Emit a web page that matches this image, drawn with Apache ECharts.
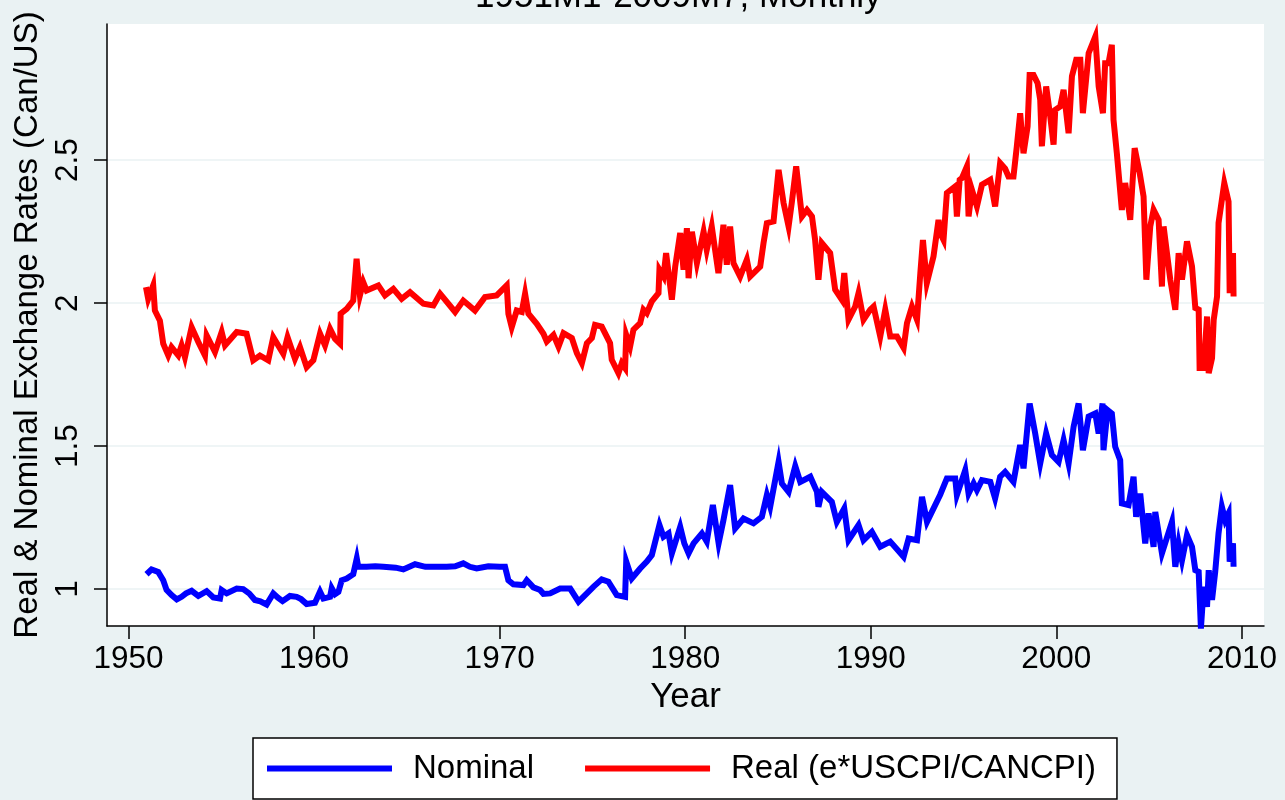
<!DOCTYPE html>
<html>
<head>
<meta charset="utf-8">
<script src="https://cdn.jsdelivr.net/npm/echarts@6/dist/echarts.min.js"></script>
<style>
html,body{margin:0;padding:0;background:#EAF2F3;}
#c{width:1285px;height:800px;}
</style>
</head>
<body>
<div id="c"></div>
<script>
const titleText = '1951M1-2009M7, Monthly';
const xAxisTitle = 'Year';
const yAxisTitle = 'Real & Nominal Exchange Rates (Can/US)';
const seriesNames = ['Nominal', 'Real (e*USCPI/CANCPI)'];
const xTicks = [1950, 1960, 1970, 1980, 1990, 2000, 2010];
const yTicks = [1, 1.5, 2, 2.5];

const nomYear = [
1950.97,1951.24,1951.6,1951.87,1952.05,1952.32,1952.6,1952.86,1953.1,1953.4,
1953.76,1954.21,1954.57,1954.93,1955.02,1955.29,1955.83,1956.18,1956.5,1956.81,
1957.1,1957.44,1957.8,1958.05,1958.3,1958.7,1959.06,1959.3,1959.6,1960.05,
1960.32,1960.5,1960.86,1960.95,1961.13,1961.31,1961.49,1961.76,1962.11,1962.3,
1962.38,1962.83,1963.3,1963.73,1964.4,1964.81,1965.44,1966.0,1966.43,1967.15,
1967.6,1968.04,1968.4,1968.76,1969.39,1970.0,1970.29,1970.38,1970.47,1970.74,
1971.28,1971.46,1971.82,1972.18,1972.36,1972.72,1973.26,1973.8,1974.25,1974.7,
1975.05,1975.5,1975.86,1976.31,1976.76,1976.82,1977.12,1977.57,1977.93,1978.2,
1978.61,1978.83,1979.1,1979.28,1979.73,1979.95,1980.18,1980.45,1980.9,1981.16,
1981.49,1981.8,1982.06,1982.42,1982.69,1983.14,1983.68,1984.13,1984.4,1984.58,
1985.03,1985.21,1985.57,1985.93,1986.2,1986.74,1987.1,1987.18,1987.36,1987.9,
1988.17,1988.57,1988.8,1989.34,1989.61,1990.06,1990.51,1991.05,1991.77,1992.04,
1992.49,1992.76,1993.03,1993.74,1994.1,1994.55,1994.64,1995.09,1995.27,1995.54,
1995.72,1995.99,1996.44,1996.7,1996.97,1997.24,1997.69,1998.05,1998.23,1998.56,
1998.86,1999.13,1999.45,1999.76,2000.12,2000.39,2000.66,2000.93,2001.2,2001.43,
2001.74,2002.1,2002.28,2002.49,2002.54,2002.76,2002.99,2003.17,2003.44,2003.53,
2003.89,2004.16,2004.3,2004.52,2004.79,2004.97,2005.24,2005.33,2005.69,2006.23,
2006.41,2006.59,2006.77,2007.04,2007.31,2007.49,2007.67,2007.79,2007.94,2008.12,
2008.21,2008.39,2008.56,2008.74,2008.92,2009.1,2009.28,2009.34,2009.52,2009.55
];
const nomVal = [
1.052,1.069,1.060,1.031,0.997,0.979,0.964,0.973,0.985,0.994,
0.976,0.993,0.971,0.967,0.997,0.985,1.002,1.000,0.985,0.962,
0.957,0.946,0.985,0.970,0.958,0.976,0.973,0.965,0.948,0.952,
0.991,0.967,0.973,1.003,0.982,0.990,1.031,1.037,1.052,1.107,
1.078,1.078,1.080,1.078,1.075,1.069,1.087,1.078,1.078,1.078,
1.080,1.090,1.078,1.072,1.080,1.078,1.078,1.078,1.031,1.017,
1.014,1.031,1.006,0.997,0.983,0.985,1.002,1.002,0.956,0.985,
1.008,1.034,1.026,0.979,0.973,1.096,1.037,1.072,1.096,1.119,
1.224,1.183,1.195,1.125,1.218,1.160,1.125,1.160,1.195,1.166,
1.294,1.160,1.241,1.364,1.212,1.247,1.230,1.253,1.329,1.288,
1.445,1.369,1.340,1.430,1.375,1.393,1.340,1.288,1.340,1.305,
1.235,1.282,1.171,1.224,1.171,1.200,1.148,1.166,1.113,1.177,
1.171,1.323,1.235,1.330,1.387,1.387,1.329,1.416,1.334,1.370,
1.346,1.381,1.375,1.317,1.393,1.410,1.375,1.504,1.422,1.649,
1.544,1.439,1.544,1.469,1.445,1.521,1.439,1.568,1.649,1.486,
1.603,1.614,1.544,1.649,1.486,1.626,1.614,1.498,1.451,1.300,
1.294,1.393,1.253,1.334,1.160,1.265,1.148,1.270,1.125,1.235,
1.078,1.160,1.101,1.189,1.148,1.066,1.060,0.862,1.008,0.938,
1.066,0.962,1.060,1.195,1.288,1.241,1.265,1.096,1.160,1.078
];

const realYear = [
1950.94,1951.06,1951.33,1951.42,1951.69,1951.87,1952.14,1952.32,1952.68,1952.86,
1953.04,1953.4,1953.76,1954.12,1954.21,1954.66,1955.02,1955.2,1955.83,1956.36,
1956.72,1957.08,1957.53,1957.8,1958.34,1958.57,1958.97,1959.24,1959.6,1959.96,
1960.32,1960.59,1960.86,1961.13,1961.4,1961.43,1961.76,1962.11,1962.29,1962.47,
1962.65,1962.83,1963.46,1963.82,1964.27,1964.72,1965.17,1965.89,1966.43,1966.79,
1967.6,1968.04,1968.67,1969.21,1969.84,1970.38,1970.47,1970.65,1970.92,1971.19,
1971.37,1971.55,1972.0,1972.36,1972.54,1972.9,1973.17,1973.44,1973.89,1974.16,
1974.43,1974.7,1974.97,1975.14,1975.5,1975.95,1976.04,1976.4,1976.58,1976.76,
1976.82,1977.03,1977.21,1977.57,1977.75,1977.93,1978.2,1978.56,1978.61,1978.83,
1978.97,1979.28,1979.46,1979.73,1979.91,1980.09,1980.18,1980.36,1980.63,1980.99,
1981.16,1981.43,1981.79,1982.06,1982.24,1982.42,1982.6,1982.96,1983.32,1983.5,
1984.04,1984.22,1984.4,1984.76,1985.03,1985.3,1985.57,1985.75,1985.98,1986.29,
1986.56,1986.83,1987.0,1987.18,1987.36,1987.81,1988.08,1988.44,1988.57,1988.8,
1989.16,1989.34,1989.61,1989.97,1990.15,1990.51,1990.78,1991.05,1991.41,1991.77,
1991.95,1992.22,1992.49,1992.67,1992.81,1993.02,1993.38,1993.65,1993.74,1993.92,
1994.1,1994.55,1994.64,1994.79,1994.91,1995.18,1995.27,1995.45,1995.72,1995.99,
1996.44,1996.7,1996.97,1997.24,1997.42,1997.69,1997.87,1998.05,1998.23,1998.45,
1998.56,1998.77,1998.99,1999.13,1999.22,1999.45,1999.67,1999.85,1999.94,2000.21,
2000.39,2000.66,2000.84,2001.07,2001.29,2001.43,2001.74,2002.1,2002.28,2002.51,
2002.63,2002.81,2002.99,2003.08,2003.26,2003.53,2003.71,2003.98,2004.22,2004.49,
2004.7,2004.85,2005.06,2005.24,2005.51,2005.69,2005.78,2006.14,2006.41,2006.59,
2006.77,2007.04,2007.31,2007.49,2007.67,2007.72,2007.94,2008.12,2008.21,2008.39,
2008.48,2008.66,2008.74,2009.05,2009.28,2009.34,2009.52,2009.55
];
const realVal = [
2.056,2.015,2.062,1.974,1.939,1.858,1.817,1.846,1.817,1.852,
1.811,1.916,1.864,1.817,1.887,1.829,1.899,1.852,1.899,1.893,
1.800,1.817,1.800,1.881,1.823,1.881,1.805,1.846,1.776,1.800,
1.893,1.852,1.910,1.875,1.858,1.963,1.980,2.009,2.155,2.027,
2.073,2.044,2.062,2.027,2.050,2.015,2.038,1.998,1.992,2.033,
1.969,2.009,1.974,2.021,2.027,2.062,1.963,1.916,1.974,1.969,
2.033,1.963,1.928,1.893,1.866,1.889,1.848,1.895,1.878,1.825,
1.790,1.860,1.878,1.924,1.918,1.860,1.802,1.755,1.790,1.773,
1.889,1.848,1.907,1.930,1.977,1.965,2.006,2.035,2.117,2.093,
2.175,2.012,2.128,2.245,2.117,2.262,2.087,2.250,2.140,2.250,
2.186,2.268,2.105,2.274,2.134,2.268,2.140,2.093,2.152,2.093,
2.128,2.210,2.280,2.286,2.466,2.350,2.268,2.355,2.478,2.303,
2.326,2.303,2.221,2.082,2.210,2.175,2.047,2.012,2.105,1.942,
1.988,2.035,1.942,1.977,1.988,1.883,1.977,1.883,1.883,1.843,
1.930,1.988,1.942,2.105,2.221,2.070,2.163,2.291,2.245,2.221,
2.385,2.408,2.303,2.431,2.437,2.478,2.303,2.396,2.338,2.414,
2.431,2.338,2.490,2.470,2.443,2.443,2.548,2.664,2.524,2.618,
2.798,2.798,2.769,2.711,2.548,2.758,2.653,2.554,2.676,2.688,
2.746,2.594,2.793,2.851,2.851,2.664,2.874,2.932,2.758,2.664,
2.839,2.839,2.903,2.641,2.524,2.326,2.420,2.291,2.542,2.455,
2.373,2.082,2.268,2.326,2.291,2.058,2.268,2.082,1.977,2.175,
2.082,2.216,2.128,1.983,1.977,1.773,1.773,1.953,1.755,1.808,
1.942,2.023,2.280,2.420,2.355,2.035,2.175,2.023
];

const FONT = '"Liberation Sans", Arial, Helvetica, sans-serif';
const pair = (xs, ys) => xs.map((x, i) => [x, ys[i]]);

const chart = echarts.init(document.getElementById('c'), null, {renderer: 'canvas'});
chart.setOption({
  animation: false,
  backgroundColor: '#EAF2F3',
  textStyle: {fontFamily: FONT, color: '#000'},
  title: {
    text: titleText,
    left: 475,
    top: -23,
    padding: 0,
    textStyle: {fontSize: 35, fontWeight: 'normal', color: '#000', fontFamily: FONT, lineHeight: 40}
  },
  grid: {left: 107, right: 21, top: 24, bottom: 174, show: true, backgroundColor: '#fff', borderWidth: 0},
  xAxis: {
    type: 'value', min: 1948.84, max: 2011.19,
    name: xAxisTitle, nameLocation: 'middle', nameGap: 53,
    nameTextStyle: {fontSize: 35, color: '#000', fontFamily: FONT},
    axisLine: {show: true, onZero: false, lineStyle: {color: '#000', width: 1.5}},
    axisTick: {show: true, length: 13, customValues: xTicks, lineStyle: {color: '#000', width: 1.5}},
    axisLabel: {customValues: xTicks, fontSize: 31.5, color: '#000', margin: 17, fontFamily: FONT, formatter: v => String(v)},
    splitLine: {show: false}
  },
  yAxis: {
    type: 'value', min: 0.871, max: 2.976,
    name: yAxisTitle, nameLocation: 'middle', nameGap: 62, nameRotate: 90,
    nameTextStyle: {fontSize: 33, color: '#000', fontFamily: FONT},
    axisLine: {show: true, onZero: false, lineStyle: {color: '#000', width: 1.5}},
    axisTick: {show: true, length: 13, customValues: yTicks, lineStyle: {color: '#000', width: 1.5}},
    axisLabel: {customValues: yTicks, rotate: 90, fontSize: 31.5, color: '#000', margin: 23, fontFamily: FONT},
    splitLine: {show: true, lineStyle: {color: '#EAF2F3', width: 1.5}}
  },
  legend: {
    left: 253, top: 738,
    orient: 'horizontal',
    backgroundColor: '#fff', borderColor: '#000', borderWidth: 1.5,
    padding: [14, 21, 14, 14],
    itemWidth: 125, itemHeight: 6, itemGap: 51,
    icon: 'rect',
    textStyle: {fontSize: 33, color: '#000', fontFamily: FONT, lineHeight: 33, padding: [0, 0, 0, 16]},
    data: seriesNames
  },
  series: [
    {
      name: seriesNames[0], type: 'line', data: pair(nomYear, nomVal),
      showSymbol: false, symbol: 'none',
      lineStyle: {color: '#0000FF', width: 6, join: 'miter', miterLimit: 6},
      itemStyle: {color: '#0000FF'}
    },
    {
      name: seriesNames[1], type: 'line', data: pair(realYear, realVal),
      showSymbol: false, symbol: 'none',
      lineStyle: {color: '#FF0000', width: 6, join: 'miter', miterLimit: 6},
      itemStyle: {color: '#FF0000'}
    }
  ]
});
</script>
</body>
</html>
